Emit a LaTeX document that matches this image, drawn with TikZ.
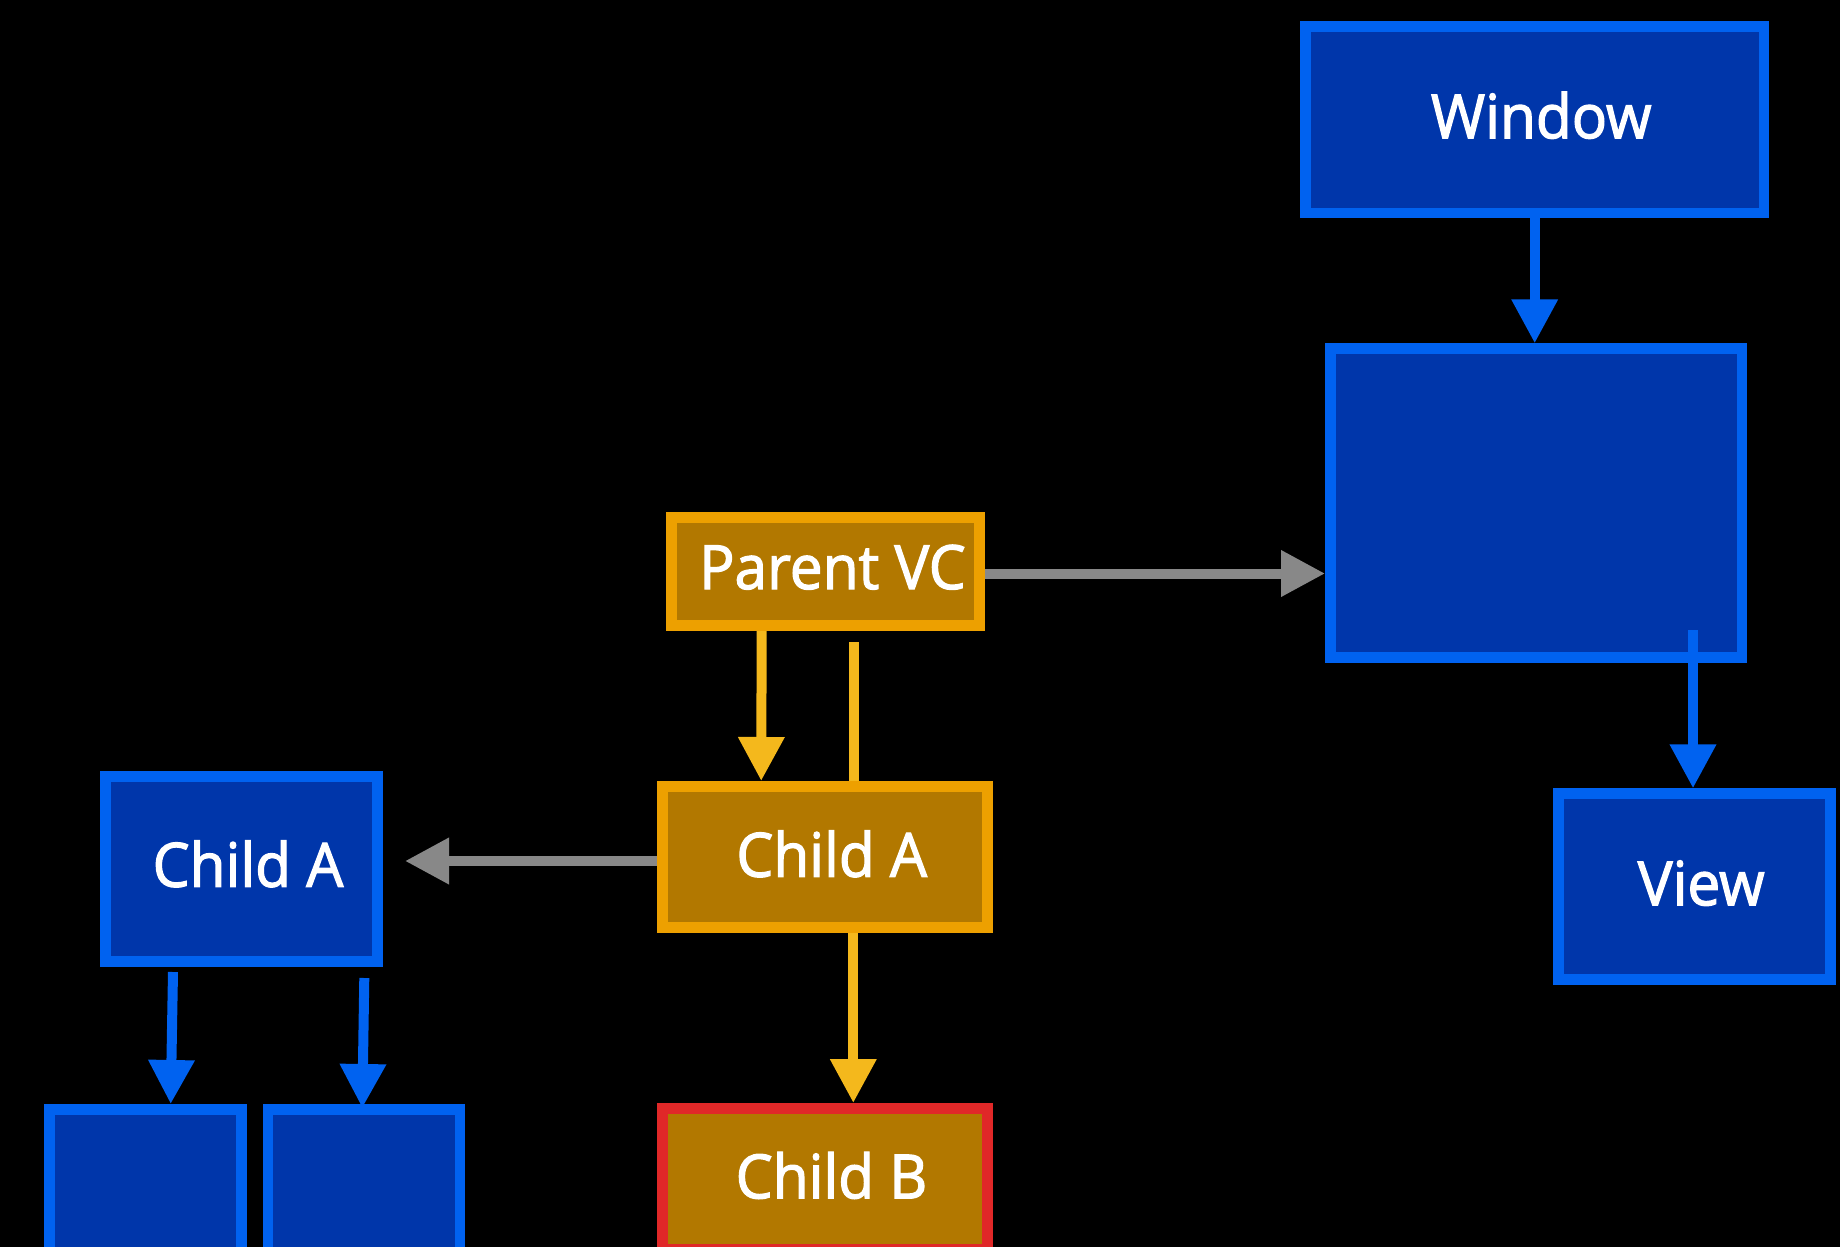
\documentclass[tikz,border=0pt]{standalone}
\usepackage{fontspec}
\newfontfamily\labelfont{Open Sans}[FakeBold=2, FakeStretch=0.96]
\usetikzlibrary{arrows.meta,calc}

\definecolor{bluefill}{RGB}{0,54,170}
\definecolor{blueedge}{RGB}{0,98,240}
\definecolor{orangefill}{RGB}{178,120,0}
\definecolor{orangeedge}{RGB}{237,160,0}
\definecolor{yellowarrow}{RGB}{244,184,28}
\definecolor{grayarrow}{RGB}{136,136,136}
\definecolor{rededge}{RGB}{224,40,40}

\tikzset{
  box/.style={rectangle, line width=10.7pt, inner sep=0pt},
  bluebox/.style={box, draw=blueedge, fill=bluefill},
  orangebox/.style={box, draw=orangeedge, fill=orangefill},
  redbox/.style={box, draw=rededge, fill=orangefill},
  label text/.style={text=white, font=\labelfont\fontsize{61}{61}\selectfont, inner sep=0pt, anchor=base},
  conn/.style={line width=10pt, line cap=butt,
    -{Triangle[length=44pt,width=44pt]}},
  blueconn/.style={conn, draw=blueedge, fill=blueedge},
  yellowconn/.style={conn, draw=yellowarrow, fill=yellowarrow},
  grayconn/.style={conn, draw=grayarrow, fill=grayarrow},
  bar/.style={line width=10pt, line cap=butt, draw=yellowarrow},
}

\begin{document}
\begin{tikzpicture}[x=1pt,y=-1pt]
  \fill[black] (0,0) rectangle (1840,1247);
  \useasboundingbox (0,0) rectangle (1840,1247);
  \clip (0,0) rectangle (1840,1247);

  % view hierarchy on the right
  \node[bluebox, minimum width=458.6pt, minimum height=186.6pt] (win) at (1534.7,119.7) {};
  \node[bluebox, minimum width=411.6pt, minimum height=308.7pt] (vcview) at (1536.2,503) {};
  \node[bluebox, minimum width=272pt, minimum height=186pt] (view) at (1694.7,886.7) {};

  % view controllers in the middle
  \node[orangebox, minimum width=308.3pt, minimum height=108.3pt] (parent) at (825.5,571.5) {};
  \node[orangebox, minimum width=325.3pt, minimum height=141.3pt] (childa) at (825,857) {};
  \node[redbox, minimum width=325.3pt, minimum height=141.3pt] (childb) at (825,1179) {};

  % child view tree on the left
  \node[bluebox, minimum width=272.3pt, minimum height=185.3pt] (viewa) at (241.5,869) {};
  \node[bluebox, minimum width=192pt, minimum height=185.3pt] (suba) at (145.5,1202) {};
  \node[bluebox, minimum width=192pt, minimum height=185.3pt] (subb) at (364,1202) {};

  % labels, set on a common baseline below each box centre
  \node[label text] at ($(win.center)+(6.5,18.5)$) {Window};
  \node[label text] at ($(view.center)+(6.5,18.5)$) {View};
  \node[label text] at ($(parent.center)+(7,17.5)$) {Parent VC};
  \node[label text] at ($(childa.center)+(6.7,19.7)$) {Child A};
  \node[label text] at ($(childb.center)+(6.5,19.3)$) {Child B};
  \node[label text] at ($(viewa.center)+(6.5,17.7)$) {Child A};

  % connectors
  \draw[blueconn] (win.south) -- (win.south |- vcview.north);
  \coordinate (vin) at (1693,630);
  \draw[blueconn] (vin) -- (vin |- view.north);

  \draw[grayconn] ($(parent.east)+(0,2)$) -- ($(parent.east -| vcview.west)+(0,2)$);
  \draw[grayconn] ($(childa.west)+(0,4)$) -- ($(viewa.east |- childa.west)+(22,4)$);

  \draw[yellowconn] ($(parent.south)+(-63.8,0)$) -- ($(childa.north)+(-63.8,0)$);
  \coordinate (ret) at (854,642);
  \draw[bar] (ret) -- (ret |- childa.north);
  \draw[yellowconn] ($(childa.south)+(28.3,0)$) -- ($(childb.north)+(28.3,0)$);

  \coordinate (la) at (173,972);
  \coordinate (lb) at (364.3,978);
  \draw[blueconn] (la) -- ($(suba.north)+(25.2,0)$);
  \draw[blueconn] (lb) -- ($(subb.north)+(-1.7,4)$);
\end{tikzpicture}
\end{document}
